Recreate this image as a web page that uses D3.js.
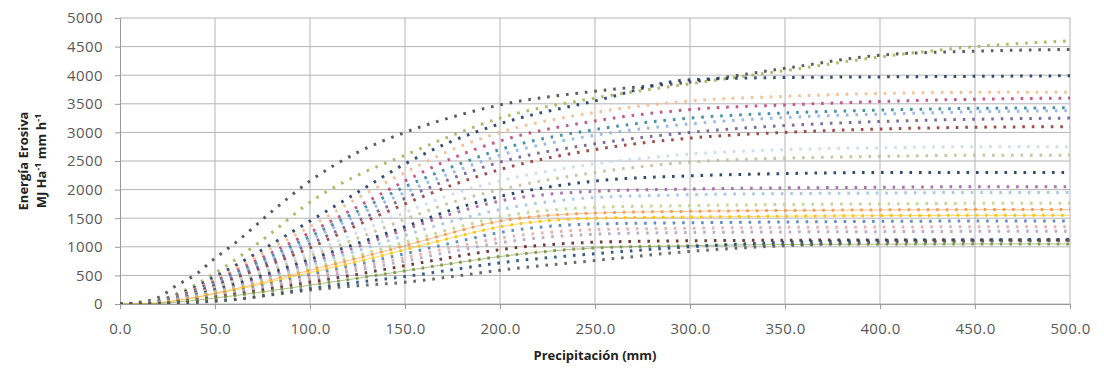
<!DOCTYPE html>
<html>
<head>
<meta charset="utf-8">
<script src="https://cdn.jsdelivr.net/npm/d3@7"></script>
<style>
  body { margin: 0; background: #fff; }
  svg text { font-family: "Open Sans", sans-serif; }
</style>
</head>
<body>
<svg id="chart" width="1104" height="373"></svg>
<script>
// precipitation values (mm) where each curve was read
const precip = [0, 10, 20, 30, 40, 50, 60, 80, 100, 125, 150, 175, 200, 250, 300, 350, 400, 450, 500];

// erosive energy curves (top to bottom at 500 mm)
const s01 = [0, 30, 110, 330, 520, 800, 1050, 1620, 2150, 2650, 3000, 3270, 3480, 3720, 3880, 4120, 4350, 4420, 4450];
const s02 = [0, 10, 60, 180, 340, 540, 760, 1250, 1780, 2250, 2600, 2950, 3250, 3600, 3850, 4080, 4320, 4500, 4600];
const s03 = [0, 10, 50, 160, 300, 480, 660, 1050, 1450, 1950, 2450, 2850, 3150, 3550, 3920, 3960, 3970, 3980, 3990];
const s04 = [0, 8, 40, 140, 270, 430, 600, 980, 1350, 1850, 2300, 2700, 3000, 3350, 3550, 3630, 3680, 3700, 3700];
const s05 = [0, 8, 40, 130, 250, 400, 560, 900, 1250, 1700, 2150, 2550, 2850, 3200, 3400, 3480, 3540, 3580, 3600];
const s06 = [0, 6, 35, 120, 230, 370, 520, 840, 1180, 1620, 2050, 2400, 2700, 3050, 3250, 3340, 3390, 3420, 3430];
const s07 = [0, 6, 35, 115, 220, 350, 490, 800, 1120, 1550, 1950, 2300, 2600, 2950, 3150, 3260, 3320, 3360, 3380];
const s08 = [0, 6, 30, 110, 210, 330, 460, 750, 1050, 1450, 1850, 2200, 2480, 2800, 3000, 3120, 3190, 3230, 3250];
const s09 = [0, 5, 30, 100, 190, 310, 430, 700, 980, 1380, 1750, 2080, 2350, 2700, 2900, 3000, 3060, 3090, 3100];
const s10 = [0, 5, 28, 95, 180, 290, 400, 650, 900, 1250, 1600, 1920, 2150, 2450, 2620, 2700, 2730, 2750, 2750];
const s11 = [0, 5, 25, 90, 170, 270, 370, 600, 840, 1150, 1480, 1780, 2000, 2300, 2480, 2550, 2580, 2600, 2600];
const s12 = [0, 5, 25, 85, 160, 250, 340, 550, 780, 1060, 1350, 1650, 1880, 2150, 2240, 2280, 2300, 2300, 2300];
const s13 = [0, 4, 22, 80, 150, 230, 310, 500, 720, 1000, 1300, 1580, 1800, 1970, 2010, 2030, 2040, 2050, 2050];
const s14 = [0, 4, 20, 75, 140, 215, 290, 470, 680, 930, 1200, 1450, 1650, 1860, 1910, 1930, 1940, 1950, 1950];
const s15 = [0, 4, 20, 70, 130, 200, 270, 440, 620, 850, 1080, 1320, 1520, 1690, 1720, 1740, 1750, 1760, 1760];
const s16 = [0, 4, 18, 65, 120, 190, 260, 420, 590, 800, 1020, 1250, 1450, 1590, 1620, 1635, 1645, 1650, 1650];
const s17 = [0, 3, 16, 60, 110, 175, 240, 390, 550, 740, 950, 1160, 1350, 1500, 1520, 1535, 1545, 1550, 1550];
const s18 = [0, 3, 15, 55, 100, 160, 220, 360, 510, 690, 880, 1070, 1250, 1400, 1420, 1435, 1445, 1450, 1450];
const s19 = [0, 3, 14, 50, 95, 150, 205, 330, 470, 640, 810, 990, 1150, 1300, 1325, 1340, 1345, 1350, 1350];
const s20 = [0, 3, 13, 45, 85, 135, 185, 300, 430, 590, 750, 920, 1070, 1220, 1250, 1260, 1265, 1270, 1270];
const s21 = [0, 2, 12, 40, 75, 120, 165, 270, 380, 520, 670, 820, 950, 1080, 1105, 1115, 1120, 1120, 1120];
const s22 = [0, 2, 10, 35, 65, 105, 145, 235, 330, 450, 580, 710, 830, 980, 1020, 1040, 1045, 1050, 1050];
const s23 = [0, 1, 5, 15, 30, 55, 80, 170, 270, 380, 480, 600, 720, 880, 1000, 1080, 1110, 1120, 1130];
const s24 = [0, 1, 5, 15, 30, 50, 75, 160, 245, 320, 380, 480, 590, 760, 920, 1020, 1080, 1100, 1110];

const xTicks = [0, 50, 100, 150, 200, 250, 300, 350, 400, 450, 500];
const yTicks = [0, 500, 1000, 1500, 2000, 2500, 3000, 3500, 4000, 4500, 5000];

const curves = [s01, s02, s03, s04, s05, s06, s07, s08, s09, s10, s11, s12,
                s13, s14, s15, s16, s17, s18, s19, s20, s21, s22, s23, s24];
const colors = ['#4a4a4a', '#a3b45a', '#1f3864', '#f5b98a', '#c0457a', '#31859c',
                '#8db4e2', '#6e5a94', '#953735', '#c5d9f1', '#c4bd97', '#17375e',
                '#a260a8', '#9dc3e6', '#b8d58c', '#f79646', '#ffc000', '#4f81bd',
                '#e6a9a8', '#b3a2c7', '#632523', '#77933c', '#1f497d', '#595959'];
const thinLine = { 15: true, 16: true, 21: true };

const width = 1104, height = 373;
const margin = { top: 18, right: 34, bottom: 69, left: 120 };

const svg = d3.select('#chart');

const x = d3.scaleLinear().domain([0, 500]).range([margin.left, width - margin.right]);
const y = d3.scaleLinear().domain([0, 5000]).range([height - margin.bottom, margin.top]);

// grid
svg.append('g')
  .selectAll('line')
  .data(yTicks)
  .join('line')
  .attr('x1', x(0)).attr('x2', x(500))
  .attr('y1', d => y(d)).attr('y2', d => y(d))
  .attr('stroke', '#b5b5b5').attr('stroke-width', 1);

svg.append('g')
  .selectAll('line')
  .data(xTicks.filter(d => d > 0))
  .join('line')
  .attr('x1', d => x(d)).attr('x2', d => x(d))
  .attr('y1', y(0)).attr('y2', y(5000))
  .attr('stroke', '#b5b5b5').attr('stroke-width', 1);

// axes
const xAxis = svg.append('g')
  .attr('transform', `translate(0,${y(0)})`)
  .call(d3.axisBottom(x).tickValues(xTicks).tickFormat(d3.format('.1f')).tickSize(5).tickPadding(14));

const yAxis = svg.append('g')
  .attr('transform', `translate(${x(0)},0)`)
  .call(d3.axisLeft(y).tickValues(yTicks).tickFormat(d3.format('d')).tickSize(5).tickPadding(12));

[xAxis, yAxis].forEach(a => {
  a.select('.domain').attr('stroke', '#9a9a9a');
  a.selectAll('.tick line').attr('stroke', '#9a9a9a');
  a.selectAll('.tick text')
    .attr('fill', '#595959')
    .style('font-size', '15px')
    .style('letter-spacing', '0.4px');
});

// curves
svg.append('clipPath').attr('id', 'plot')
  .append('rect')
  .attr('x', x(0)).attr('y', y(5000) - 3)
  .attr('width', x(500) - x(0) + 3).attr('height', y(0) - y(5000) + 3);

const line = d3.line()
  .x((d, i) => x(precip[i]))
  .y(d => y(d))
  .curve(d3.curveMonotoneX);

const g = svg.append('g').attr('clip-path', 'url(#plot)');

curves.forEach((c, i) => {
  if (thinLine[i]) {
    g.append('path')
      .attr('d', line(c))
      .attr('fill', 'none')
      .attr('stroke', colors[i])
      .attr('stroke-width', 1)
      .attr('opacity', 0.6);
  }
  g.append('path')
    .attr('d', line(c))
    .attr('fill', 'none')
    .attr('stroke', colors[i])
    .attr('stroke-width', 3)
    .attr('stroke-dasharray', '2.6 6.9')
    .attr('opacity', 0.9);
});

// titles
svg.append('text')
  .attr('x', (x(0) + x(500)) / 2)
  .attr('y', 360)
  .attr('text-anchor', 'middle')
  .style('font-size', '13px')
  .style('font-weight', 'bold')
  .attr('fill', '#222')
  .text('Precipitación (mm)');

const yTitle = svg.append('text')
  .attr('transform', 'translate(28,161) rotate(-90)')
  .attr('text-anchor', 'middle')
  .style('font-size', '13px')
  .style('font-weight', 'bold')
  .attr('fill', '#222');

yTitle.append('tspan').attr('x', 0).attr('dy', 0).text('Energía Erosiva');
const l2 = yTitle.append('tspan').attr('x', 0).attr('dy', 18);
l2.append('tspan').text('MJ Ha');
l2.append('tspan').attr('dy', -5).style('font-size', '9px').text('-1');
l2.append('tspan').attr('dy', 5).text(' mm h');
l2.append('tspan').attr('dy', -5).style('font-size', '9px').text('-1');
</script>
</body>
</html>
